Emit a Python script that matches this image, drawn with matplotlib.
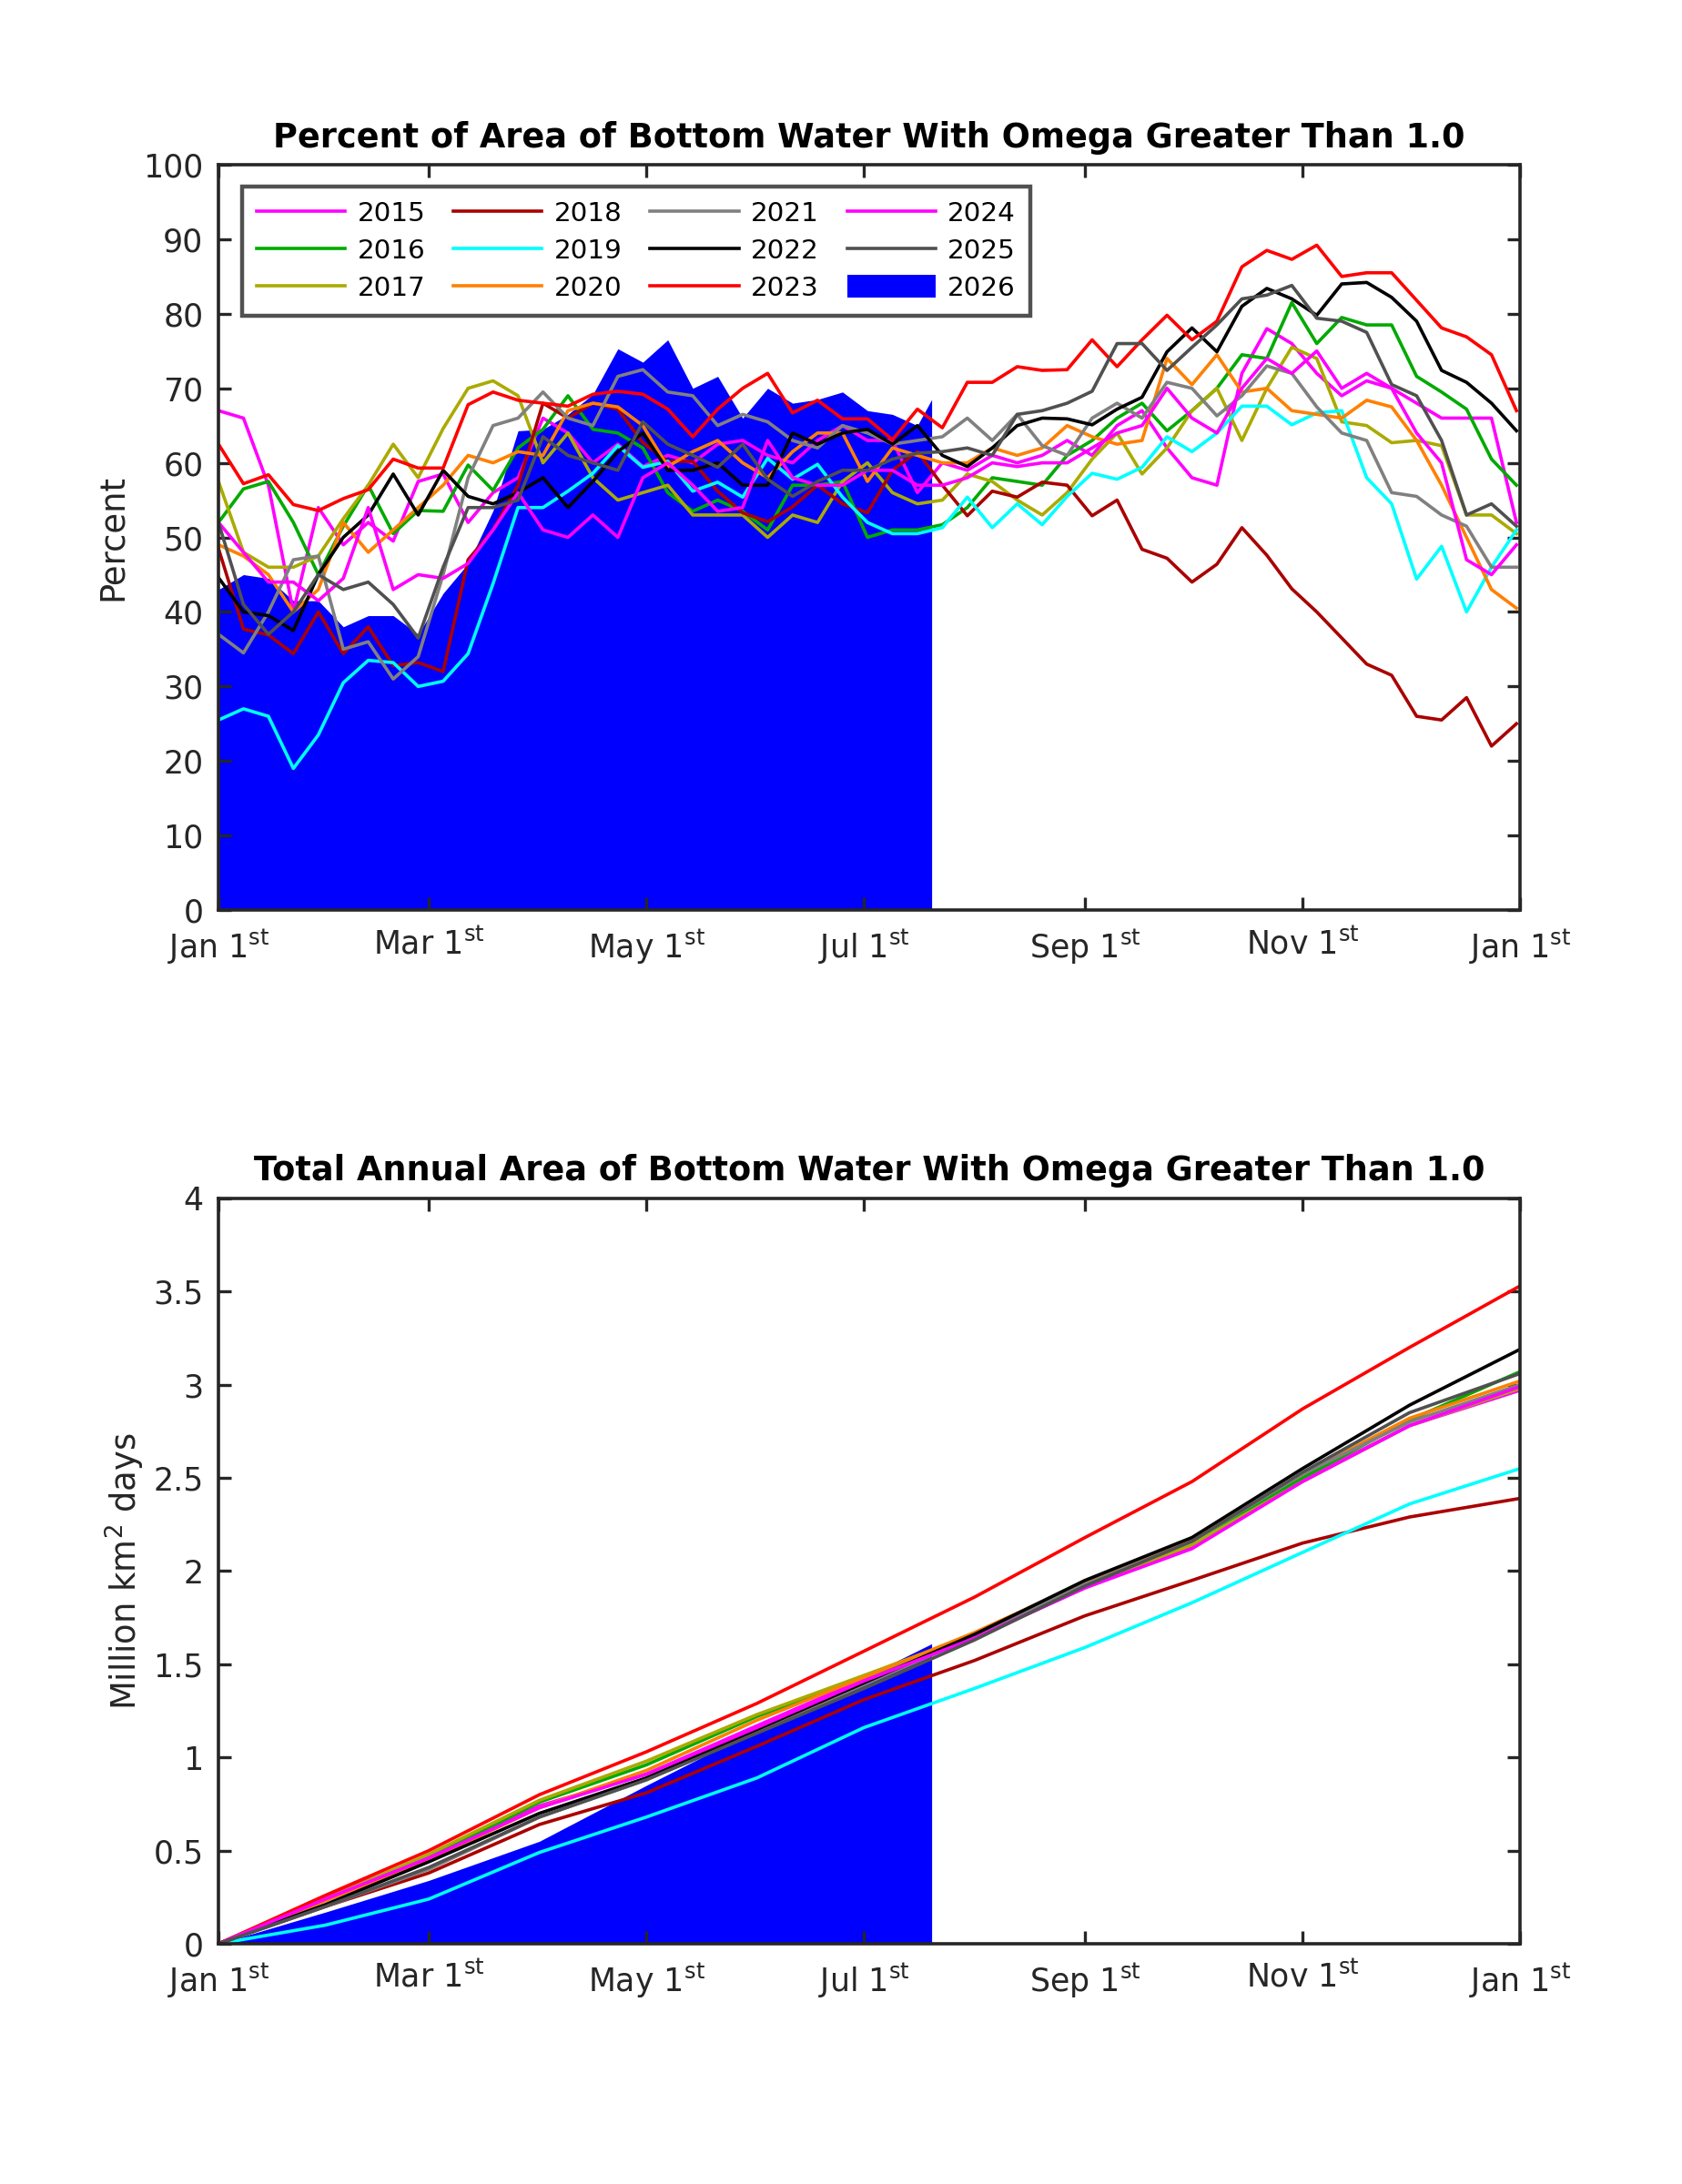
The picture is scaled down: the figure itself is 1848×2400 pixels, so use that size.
import numpy as np
import matplotlib
matplotlib.use('Agg')
import matplotlib.pyplot as plt

plt.rcParams['font.family'] = ['DejaVu Sans']
plt.rcParams['mathtext.fontset'] = 'dejavusans'

# ---------------- data: percent of area (weekly samples, day of year) ----------------
days = np.arange(0, 365, 7)  # 0..364

pct_2015 = [67, 66, 57, 40, 54, 49, 52, 49.5, 57.5, 58.5, 52, 56, 58, 66, 64, 60, 62.5, 59.5, 61, 60,
            62.5, 63, 61, 60, 63, 65, 63, 63, 56, 60, 59, 61, 60, 61, 63, 61, 65, 67, 62, 58,
            57, 72, 78, 76, 72, 69, 71, 70, 68, 66, 66, 66, 52]
pct_2016 = [52, 56.5, 57.5, 52, 45, 51.5, 57, 50.5, 53.6, 53.5, 59.7, 56.3, 62, 64.5, 69, 64.5, 64, 62, 56, 53.5,
            55, 53.5, 51, 57, 57, 57.5, 50, 51, 51, 51.7, 54, 58, 57.5, 57, 61, 63, 66, 68, 64.3, 67,
            70, 74.5, 74, 81.5, 76, 79.5, 78.5, 78.5, 71.6, 69.5, 67.2, 60.5, 57]
pct_2017 = [57.5, 48, 46, 46, 47.5, 52.5, 57, 62.5, 58, 64.6, 70, 71, 69, 60, 64, 58, 55, 56, 57, 53,
            53, 53, 50, 53, 52, 57.5, 60, 56, 54.5, 55, 58.5, 57.5, 55, 53, 56, 60.5, 64, 58.5, 62, 67,
            70, 63, 70, 75.5, 74, 65.5, 65, 62.7, 63, 62.3, 53, 53, 50.5]
pct_2018 = [48.5, 37.7, 36.9, 34.4, 40, 34.4, 38, 32.8, 33.2, 32, 47, 51, 57, 68, 66, 68, 67.2, 62.7, 60.2, 60.2,
            56.2, 53.3, 52.1, 54.1, 57, 54.5, 53.3, 59, 61.5, 57, 52.9, 56.2, 55.4, 57.4, 57, 52.9, 55, 48.4, 47.2, 44,
            46.4, 51.3, 47.6, 43.1, 40, 36.5, 33, 31.5, 26, 25.5, 28.5, 22, 25]
pct_2019 = [25.5, 27, 26, 19, 23.5, 30.5, 33.5, 33.2, 30, 30.7, 34.4, 43.8, 54, 54, 56.2, 58.6, 62.3, 59.4, 60.2, 56.2,
            57.4, 55.4, 60.6, 57.8, 59.8, 55.4, 52, 50.5, 50.5, 51.3, 55.4, 51.3, 54.5, 51.7, 55.5, 58.6, 57.8, 59.4, 63.5, 61.5,
            64, 67.6, 67.6, 65.1, 66.7, 67, 58, 54.5, 44.4, 48.8, 40, 46, 51]
pct_2020 = [49, 47.5, 45, 40, 43, 52, 48, 51, 54, 57, 61, 60, 61.5, 61, 67, 68, 67.5, 65, 59.5, 61.5,
            63, 60, 58, 61.5, 64, 64, 57.5, 62, 61, 60, 60, 62, 61, 62, 65, 63.5, 62.5, 63, 74, 70.5,
            74.5, 69.5, 70, 67, 66.5, 66, 68.4, 67.5, 63, 57, 50, 43, 40.5]
pct_2021 = [37, 34.5, 40, 47, 47.5, 35, 36, 31, 34, 45, 58, 65, 66, 69.5, 66, 65, 71.6, 72.5, 69.5, 69,
            65, 66.5, 65.5, 63, 62, 65, 64, 62.5, 63, 63.5, 66, 63, 66.5, 62.3, 61, 66, 68, 66, 70.8, 70,
            66.3, 69, 73, 72, 67.5, 64, 63, 56, 55.5, 53, 51.5, 46, 46]
pct_2022 = [44.6, 40, 39.5, 37.5, 45, 50, 53, 58.5, 53, 59, 55.5, 54.5, 56, 58, 54, 57.5, 61.5, 64, 59, 59,
            60, 57, 57, 64, 62.5, 64, 64.5, 62.5, 65, 61, 59.5, 62, 65, 66, 65.9, 65.1, 67.2, 68.8, 74.9, 78.1,
            74.9, 81, 83.4, 82, 79.8, 84, 84.2, 82.2, 79, 72.4, 70.8, 68, 64.3]
pct_2023 = [62.5, 57.2, 58.4, 54.4, 53.6, 55.2, 56.4, 60.5, 59.3, 59.3, 67.8, 69.5, 68.4, 68, 67.6, 69.2, 69.6, 69.2, 67.2, 63.5,
            67.2, 70, 72, 66.7, 68.4, 65.9, 65.9, 63.1, 67.2, 64.7, 70.8, 70.8, 72.9, 72.4, 72.5, 76.5, 72.9, 76.5, 79.8, 76.5,
            79, 86.3, 88.5, 87.3, 89.2, 85, 85.5, 85.5, 81.8, 78.1, 76.9, 74.5, 67]
pct_2024 = [52, 48, 44, 44, 41.5, 44.5, 54, 43, 45, 44.5, 46.5, 51, 56, 51, 50, 53, 50, 58, 60, 57,
            53.5, 54, 63, 58, 57, 57, 59, 59, 57, 57, 58, 60, 59.5, 60, 60, 62, 64, 65, 70, 66,
            64, 70, 74, 72, 75, 70, 72, 70, 64, 60, 47, 45, 49]
pct_2025 = [52, 41, 37, 40, 45, 43, 44, 41, 36.5, 46, 54, 54, 55, 63.5, 61, 60, 59, 65.5, 62.5, 61,
            59.4, 62.5, 57.8, 55.5, 57.5, 59, 59, 60.5, 61.3, 61.5, 62, 61, 66.5, 67, 68, 69.6, 76, 76, 72.4, 75.5,
            78.5, 82, 82.5, 83.8, 79.4, 79, 77.5, 70.5, 69, 63, 53, 54.5, 51.5]

days_2026 = [0, 7, 14, 21, 28, 35, 42, 49, 56, 63, 70, 77, 84, 91, 98, 105, 112, 119, 126, 133,
             140, 147, 154, 161, 168, 175, 182, 189, 196, 200]
pct_2026 = [43, 45, 44.5, 41.5, 41.5, 38, 39.5, 39.5, 37, 42.5, 46.5, 53.6, 64.3, 64.5, 66.5, 69.2, 75.3, 73.5, 76.5, 70,
            71.6, 66, 70, 68, 68.5, 69.5, 67, 66.5, 65, 68.5]

# ---------------- data: cumulative area (million km^2 days) ----------------
cum_days = [0, 30, 59, 90, 120, 151, 181, 212, 243, 273, 304, 334, 365]
cum_2015 = [0, 0.25, 0.47, 0.74, 0.91, 1.17, 1.42, 1.64, 1.91, 2.13, 2.49, 2.78, 2.97]
cum_2016 = [0, 0.24, 0.46, 0.76, 0.96, 1.22, 1.43, 1.66, 1.93, 2.16, 2.50, 2.81, 3.07]
cum_2017 = [0, 0.24, 0.48, 0.77, 0.98, 1.23, 1.44, 1.66, 1.92, 2.14, 2.48, 2.78, 2.98]
cum_2018 = [0, 0.20, 0.38, 0.64, 0.81, 1.06, 1.31, 1.52, 1.76, 1.95, 2.15, 2.29, 2.39]
cum_2019 = [0, 0.10, 0.24, 0.49, 0.68, 0.89, 1.16, 1.37, 1.59, 1.83, 2.10, 2.36, 2.55]
cum_2020 = [0, 0.23, 0.45, 0.73, 0.93, 1.20, 1.43, 1.67, 1.94, 2.17, 2.52, 2.82, 3.02]
cum_2021 = [0, 0.20, 0.40, 0.68, 0.88, 1.14, 1.39, 1.65, 1.93, 2.16, 2.52, 2.80, 3.00]
cum_2022 = [0, 0.21, 0.44, 0.70, 0.89, 1.15, 1.40, 1.66, 1.95, 2.18, 2.55, 2.89, 3.19]
cum_2023 = [0, 0.26, 0.50, 0.80, 1.03, 1.29, 1.57, 1.86, 2.18, 2.48, 2.87, 3.20, 3.53]
cum_2024 = [0, 0.24, 0.46, 0.73, 0.91, 1.16, 1.41, 1.64, 1.91, 2.12, 2.48, 2.78, 2.99]
cum_2025 = [0, 0.20, 0.41, 0.68, 0.88, 1.13, 1.37, 1.63, 1.92, 2.16, 2.53, 2.85, 3.06]
cum_days_2026 = [0, 30, 59, 90, 120, 151, 181, 200]
cum_2026 = [0, 0.17, 0.34, 0.55, 0.85, 1.15, 1.43, 1.61]

years = ['2015', '2016', '2017', '2018', '2019', '2020', '2021', '2022', '2023', '2024', '2025']
colors = ['#FF00FF', '#00AA00', '#AAAA00', '#AA0000', '#00FFFF', '#FF8000',
          '#808080', '#000000', '#FF0000', '#FF00FF', '#505050']
color_2026 = '#0000FF'
pct_series = [pct_2015, pct_2016, pct_2017, pct_2018, pct_2019, pct_2020,
              pct_2021, pct_2022, pct_2023, pct_2024, pct_2025]
cum_series = [cum_2015, cum_2016, cum_2017, cum_2018, cum_2019, cum_2020,
              cum_2021, cum_2022, cum_2023, cum_2024, cum_2025]

tick_days = [0, 59, 120, 181, 243, 304, 365]
tick_labels = [r'Jan 1$^{\mathrm{st}}$', r'Mar 1$^{\mathrm{st}}$', r'May 1$^{\mathrm{st}}$',
               r'Jul 1$^{\mathrm{st}}$', r'Sep 1$^{\mathrm{st}}$', r'Nov 1$^{\mathrm{st}}$',
               r'Jan 1$^{\mathrm{st}}$']

AX_COL = '#262626'

fig = plt.figure(figsize=(9.24, 12), dpi=200)
ax1 = fig.add_axes([0.1299, 0.5833, 0.7738, 0.3413])
ax2 = fig.add_axes([0.1299, 0.1100, 0.7738, 0.3413])


def style(ax):
    for s in ax.spines.values():
        s.set_linewidth(1.3)
        s.set_color(AX_COL)
    ax.tick_params(direction='in', length=5, width=1.2, top=True, right=True,
                   colors=AX_COL, labelsize=12.5, pad=6)
    ax.tick_params(axis='x', pad=7)
    ax.set_xlim(0, 365)
    ax.set_xticks(tick_days)
    ax.set_xticklabels(tick_labels)


# ---- top panel ----
ax1.fill_between(days_2026, 0, pct_2026, color=color_2026, linewidth=0, label='2026', zorder=1)
for y, c, s in zip(years, colors, pct_series):
    ax1.plot(days, s, color=c, lw=1.3, label=y, zorder=2)
ax1.set_ylim(0, 100)
ax1.set_yticks(np.arange(0, 101, 10))
style(ax1)
ax1.set_ylabel('Percent', fontsize=13.3, color=AX_COL, labelpad=5.5)
ax1.set_title('Percent of Area of Bottom Water With Omega Greater Than 1.0',
              fontsize=13.2, fontweight='bold', pad=7)
hs, ls = ax1.get_legend_handles_labels()
order = [ls.index(y) for y in years + ['2026']]
leg = ax1.legend([hs[i] for i in order], [ls[i] for i in order], ncol=4,
                 loc='upper left', bbox_to_anchor=(0.018, 0.971), borderaxespad=0,
                 fontsize=10.6, frameon=True, fancybox=False, handlelength=3.3,
                 handleheight=0.9, handletextpad=0.45, columnspacing=1.05,
                 labelspacing=0.42, borderpad=0.55)
leg.get_frame().set_edgecolor(AX_COL)
leg.get_frame().set_linewidth(1.6)

# ---- bottom panel ----
ax2.fill_between(cum_days_2026, 0, cum_2026, color=color_2026, linewidth=0, zorder=1)
for y, c, s in zip(years, colors, cum_series):
    ax2.plot(cum_days, s, color=c, lw=1.3, zorder=2)
ax2.set_ylim(0, 4)
yt = np.arange(0, 4.01, 0.5)
ax2.set_yticks(yt)
ax2.set_yticklabels(['0', '0.5', '1', '1.5', '2', '2.5', '3', '3.5', '4'])
style(ax2)
ax2.set_ylabel(r'Million km$^2$ days', fontsize=13.3, color=AX_COL, labelpad=2.5)
ax2.set_title('Total Annual Area of Bottom Water With Omega Greater Than 1.0',
              fontsize=13.2, fontweight='bold', pad=7)

fig.savefig('out.png', dpi=200)
